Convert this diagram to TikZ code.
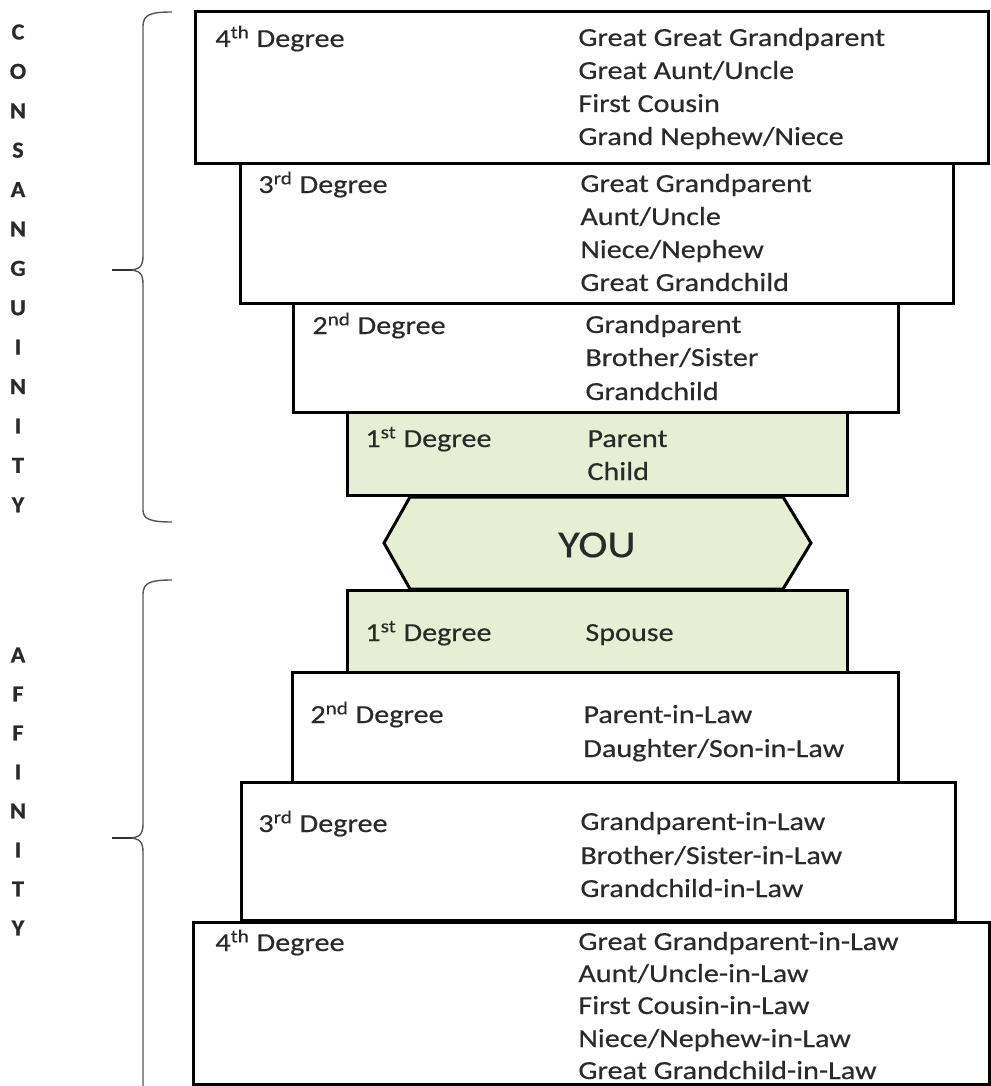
\documentclass[tikz,border=0pt]{standalone}
\usepackage{fontspec}
\setmainfont{Carlito}[FakeStretch=1.16,FakeBold=0.4]
\newfontfamily\lettfont{Carlito Bold}[FakeStretch=1.05,FakeBold=0.6]
\definecolor{boxgreen}{HTML}{E6EFD3}
\definecolor{txt}{HTML}{2A2A2A}
\definecolor{bracecol}{HTML}{555555}
\begin{document}
\begin{tikzpicture}[x=0.5pt,y=-0.5pt,
  bx/.style={draw=black,line width=1.5pt,inner sep=0pt,outer sep=0pt,fill=white},
  gbx/.style={bx,fill=boxgreen},
  lab/.style={anchor=base west,inner sep=0pt,text=txt,font=\fontsize{13}{15}\selectfont},
  itm/.style={lab},
  lett/.style={inner sep=0pt,text=txt,font=\lettfont\fontsize{11.5}{13}\selectfont},
  brace/.style={draw=bracecol,line width=0.7pt},
  bracetip/.style={draw=black!80,line width=1.3pt}]
\useasboundingbox (0,0) rectangle (990,1086);
\fill[white] (0,0) rectangle (990,1086);

% ---------- consanguinity boxes ----------
\node[bx,minimum width=396.5pt,minimum height=75.5pt] (c4) at (591.5,87.5) {};
\node[bx,minimum width=356.5pt,minimum height=70pt] (c3) at (596.5,233) {};
\node[bx,minimum width=302.5pt,minimum height=54.5pt] (c2) at (595.5,357.5) {};
\node[gbx,minimum width=250pt,minimum height=41.5pt] (c1) at (597,453.5) {};

% ---------- YOU ----------
\coordinate (h1) at (410,497);
\coordinate (h2) at (783,497);
\coordinate (h3) at (811,543);
\coordinate (h4) at (783,589);
\coordinate (h5) at (410,589);
\coordinate (h6) at (384,543);
\draw[line width=1.5pt,fill=boxgreen,line join=miter] (h1) -- (h2) -- (h3) -- (h4) -- (h5) -- (h6) -- cycle;
\node[inner sep=0pt,text=txt,font=\fontsize{19}{22}\selectfont] (you) at (597,545) {YOU};

% ---------- affinity boxes ----------
\node[gbx,minimum width=250pt,minimum height=41pt] (a1) at (597,631) {};
\node[bx,minimum width=303pt,minimum height=55pt] (a2) at (595,727) {};
\node[bx,minimum width=357pt,minimum height=69pt] (a3) at (598,851) {};
\node[bx,minimum width=398pt,minimum height=81pt] (a4) at (591,1003) {};

% ---------- texts: consanguinity ----------
\node[lab] (c4l) at (215,47) {4\textsuperscript{th} Degree};
\node[itm] (c4i1) at (578,46) {Great Great Grandparent};
\node[itm] (c4i2) at (578,79) {Great Aunt/Uncle};
\node[itm] (c4i3) at (578,112) {First Cousin};
\node[itm] (c4i4) at (578,145) {Grand Nephew/Niece};

\node[lab] (c3l) at (258,193) {3\textsuperscript{rd} Degree};
\node[itm] (c3i1) at (580,192) {Great Grandparent};
\node[itm] (c3i2) at (580,225) {Aunt/Uncle};
\node[itm] (c3i3) at (580,258) {Niece/Nephew};
\node[itm] (c3i4) at (580,291) {Great Grandchild};

\node[lab] (c2l) at (312,334) {2\textsuperscript{nd} Degree};
\node[itm] (c2i1) at (585,333) {Grandparent};
\node[itm] (c2i2) at (585,366) {Brother/Sister};
\node[itm] (c2i3) at (585,400) {Grandchild};

\node[lab] (c1l) at (365,447) {1\textsuperscript{st} Degree};
\node[itm] (c1i1) at (587,447) {Parent};
\node[itm] (c1i2) at (587,480) {Child};

% ---------- texts: affinity ----------
\node[lab] (a1l) at (365,641) {1\textsuperscript{st} Degree};
\node[itm] (a1i1) at (585,641) {Spouse};

\node[lab] (a2l) at (310,723) {2\textsuperscript{nd} Degree};
\node[itm] (a2i1) at (583,723) {Parent-in-Law};
\node[itm] (a2i2) at (583,757) {Daughter/Son-in-Law};

\node[lab] (a3l) at (258,832) {3\textsuperscript{rd} Degree};
\node[itm] (a3i1) at (580,830) {Grandparent-in-Law};
\node[itm] (a3i2) at (580,864) {Brother/Sister-in-Law};
\node[itm] (a3i3) at (580,897) {Grandchild-in-Law};

\node[lab] (a4l) at (215,951) {4\textsuperscript{th} Degree};
\node[itm] (a4i1) at (578,950) {Great Grandparent-in-Law};
\node[itm] (a4i2) at (578,982) {Aunt/Uncle-in-Law};
\node[itm] (a4i3) at (578,1014) {First Cousin-in-Law};
\node[itm] (a4i4) at (578,1047) {Niece/Nephew-in-Law};
\node[itm] (a4i5) at (578,1079) {Great Grandchild-in-Law};

% ---------- braces ----------
\draw[brace] (172,12) .. controls (152,12) and (143,14) .. (143,26) -- (143,256)
  .. controls (143,266) and (140,270) .. (128,270)
  .. controls (140,270) and (143,274) .. (143,284) -- (143,510)
  .. controls (143,519) and (150,522) .. (172,522);
\draw[bracetip] (112,270) -- (132,270);

\draw[brace] (172,580) .. controls (152,580) and (143,582) .. (143,594) -- (143,824)
  .. controls (143,834) and (140,838) .. (128,838)
  .. controls (140,838) and (143,842) .. (143,852) -- (143,1086);
\draw[bracetip] (112,838) -- (132,838);

% ---------- vertical words ----------
\foreach \ch [count=\i from 0] in {C,O,N,S,A,N,G,U,I,N,I,T,Y}
  \node[lett] (cw\i) at (18,{32+\i*39.4}) {\ch};
\foreach \ch [count=\i from 0] in {A,F,F,I,N,I,T,Y}
  \node[lett] (aw\i) at (18,{655+\i*39}) {\ch};
\end{tikzpicture}
\end{document}
